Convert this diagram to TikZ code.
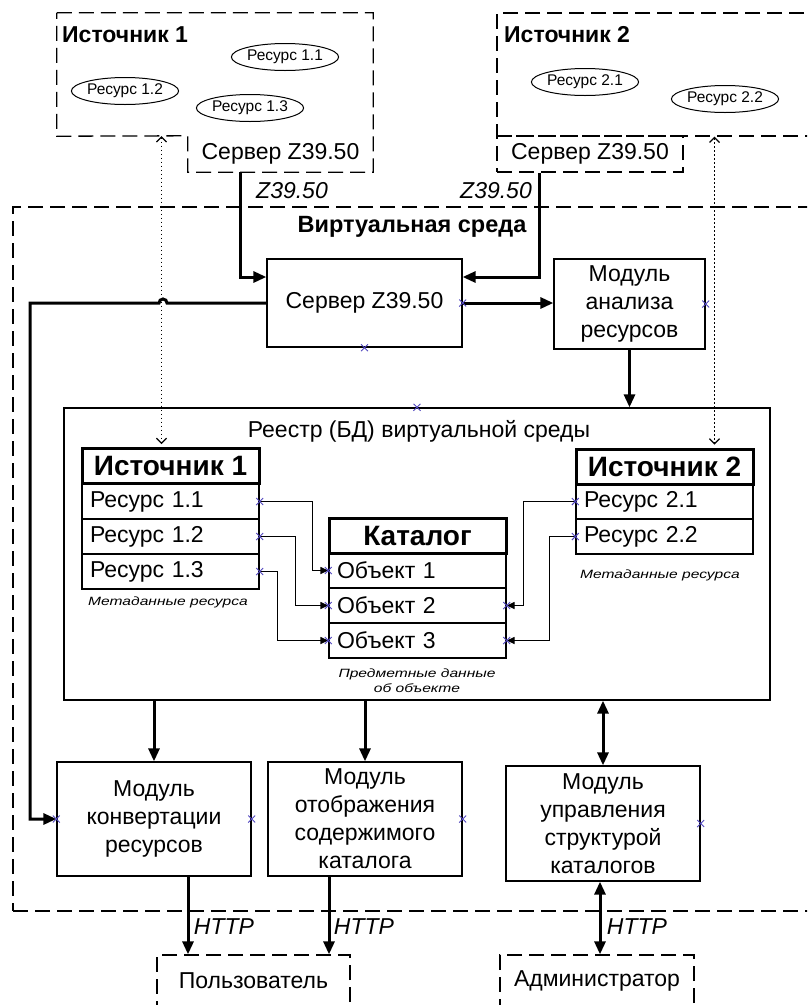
\documentclass[tikz,border=0pt]{standalone}
\usepackage{fontspec}
\setmainfont{Liberation Sans}
\usetikzlibrary{arrows.meta,shapes.geometric,shapes.misc}
\definecolor{xcol}{RGB}{80,70,190}
\newcommand\capt[1]{\scalebox{1.3}[1]{#1}}
\tikzset{
  lbl/.style={inner sep=0pt, font=\fontsize{23}{28}\selectfont},
  ilbl/.style={inner sep=0pt, font=\itshape\fontsize{23}{26}\selectfont},
  ttl/.style={inner sep=0pt, font=\bfseries\fontsize{23}{26}\selectfont},
  ell/.style={draw, ellipse, line width=1pt, minimum width=105pt, minimum height=27pt, inner sep=0pt, font=\fontsize{15.5}{18}\selectfont},
  dsh/.style={line width=1.3pt, dash pattern=on 15pt off 7pt},
  box/.style={draw, line width=1.3pt, inner sep=0pt, align=center, font=\fontsize{23}{28}\selectfont},
  hdr/.style={draw, line width=3pt, minimum width=177pt, minimum height=35pt, inner sep=0pt, font=\bfseries\fontsize{28}{30}\selectfont},
  rowbox/.style={draw, line width=1.3pt, minimum height=35pt, inner xsep=8pt, inner ysep=0pt, text width=161pt, align=left, font=\fontsize{23}{26}\selectfont},
  capn/.style={inner sep=0pt, align=center, font=\itshape\fontsize{12}{15}\selectfont},
  thk/.style={line width=3pt},
  tarr/.style={thk, -{Triangle[length=13pt,width=11pt]}},
  tdarr/.style={thk, {Triangle[length=13pt,width=11pt]}-{Triangle[length=13pt,width=11pt]}},
  carr/.style={line width=1.3pt, -{Triangle[length=8pt,width=7pt]}},
  dotarr/.style={line width=1.2pt, dash pattern=on 1.5pt off 2.5pt, {Straight Barb[length=5pt,width=10pt]}-{Straight Barb[length=5pt,width=10pt]}},
  xm/.style={shape=cross out, draw=xcol, line width=0.9pt, minimum size=6pt, inner sep=0pt},
}
\begin{document}
\begin{tikzpicture}[x=1pt,y=-1pt]
\useasboundingbox (0,0) rectangle (807,1005);
\clip (0,0) rectangle (807,1005);

% ---------- Source 1 ----------
\node[minimum width=316pt, minimum height=123pt, inner sep=0pt] (src1) at (215,74.5) {};
\node[lbl, minimum width=185pt, minimum height=36pt] (s1srv) at (280.5,154) {Сервер Z39.50};
\draw[dsh] (src1.north west) -- (src1.north east) -- (s1srv.south east) -- (s1srv.south west)
  -- (s1srv.north west) -- (src1.south west) -- cycle;
\node[ttl, anchor=west] (s1t) at (62,35) {Источник 1};
\node[ell] (e11) at (285,57) {Ресурс 1.1};
\node[ell] (e12) at (125,91) {Ресурс 1.2};
\node[ell] (e13) at (250,108) {Ресурс 1.3};

% ---------- Source 2 ----------
\node[dsh, draw, minimum width=323pt, minimum height=123pt, inner sep=0pt] (src2) at (658.5,74.5) {};
\node[lbl, dsh, draw, minimum width=186pt, minimum height=36pt] (s2srv) at (590,154) {Сервер Z39.50};
\node[ttl, anchor=west] (s2t) at (504,35) {Источник 2};
\node[ell] (e21) at (585,82) {Ресурс 2.1};
\node[ell] (e22) at (725,99) {Ресурс 2.2};

\node[ilbl] (z1) at (292,191) {Z39.50};
\node[ilbl] (z2) at (496,191) {Z39.50};

% ---------- Virtual environment ----------
\node[dsh, draw, minimum width=807pt, minimum height=704pt, inner sep=0pt] (venv) at (416.5,559) {};
\node[inner sep=0pt, font=\bfseries\fontsize{23.5}{26}\selectfont] (vt) at (412,227) {Виртуальная среда};

\node[box, minimum width=195pt, minimum height=88pt] (vsrv) at (364.5,303) {Сервер Z39.50};
\node[box, minimum width=151pt, minimum height=90pt] (anal) at (629.5,304) {Модуль\\анализа\\ресурсов};

% registry
\node[draw, line width=1.3pt, minimum width=706pt, minimum height=292pt, inner sep=0pt] (reg) at (417,554) {};
\node[lbl] (regt) at (419,431) {Реестр (БД) виртуальной среды};

% table Источник 1
\node[rowbox] (t1r1) at (170.5,501.5) {Ресурс 1.1};
\node[rowbox] (t1r2) at (170.5,536.5) {Ресурс 1.2};
\node[rowbox] (t1r3) at (170.5,571.5) {Ресурс 1.3};
\node[hdr] (t1h) at (170.5,466) {Источник 1};
\node[capn] (t1c) at (168,602) {\capt{Метаданные ресурса}};

% table Каталог
\node[rowbox] (c1) at (417.5,570.5) {Объект 1};
\node[rowbox] (c2) at (417.5,605.5) {Объект 2};
\node[rowbox] (c3) at (417.5,640.5) {Объект 3};
\node[hdr] (ch) at (417.5,535.5) {Каталог};
\node[capn] (cc) at (417,681) {\capt{Предметные данные}\\\capt{об объекте}};

% table Источник 2
\node[rowbox] (t2r1) at (664.5,501.5) {Ресурс 2.1};
\node[rowbox] (t2r2) at (664.5,536.5) {Ресурс 2.2};
\node[hdr] (t2h) at (664.5,466.5) {Источник 2};
\node[capn] (t2c) at (660,575) {\capt{Метаданные ресурса}};

% modules
\node[box, minimum width=194pt, minimum height=114pt] (conv) at (154,819) {Модуль\\конвертации\\ресурсов};
\node[box, minimum width=194pt, minimum height=114pt] (disp) at (365,819) {Модуль\\отображения\\содержимого\\каталога};
\node[box, minimum width=194pt, minimum height=115pt] (mgmt) at (603,823.5) {Модуль\\управления\\структурой\\каталогов};

% users
\node[lbl, dsh, draw, minimum width=193pt, minimum height=52pt] (user) at (253.5,981) {Пользователь};
\node[lbl, dsh, draw, minimum width=194pt, minimum height=52pt] (admin) at (597,981) {Администратор};

% ---------- connectors ----------
\draw[tarr] ([xshift=53pt]s1srv.south west) |- ([yshift=26pt]vsrv.west);
\draw[tarr] ([xshift=43pt]s2srv.south west) |- ([yshift=26pt]vsrv.east);
\draw[tarr] (vsrv.east) -- (vsrv.east -| anal.west);
\draw[tarr] (anal.south) -- (anal.south |- reg.north);

\coordinate (d1) at ([xshift=81pt]t1h.north west);
\coordinate (d2) at ([xshift=140pt]t2h.north west);
\draw[dotarr] (d1 |- src1.south) -- ([yshift=3pt]d1);
\draw[dotarr] (d2 |- src2.south) -- ([yshift=3pt]d2);

\draw[tarr] (vsrv.west) -- (167,303) arc[start angle=0, end angle=-180, radius=4] -- (30,303) |- (conv.west);

\draw[tarr] (conv.north |- reg.south) -- (conv.north);
\draw[tarr] (disp.north |- reg.south) -- (disp.north);
\draw[tdarr] (mgmt.north |- reg.south) -- (mgmt.north);

\coordinate (h1) at ([xshift=34pt]conv.south);
\coordinate (h2) at ([xshift=-36pt]disp.south);
\coordinate (h3) at ([xshift=-3pt]mgmt.south);
\draw[tarr] (h1) -- (h1 |- user.north);
\draw[tarr] (h2) -- (h2 |- user.north);
\draw[tdarr] (h3) -- (h3 |- admin.north);
\node[ilbl] (http1) at (224,927) {HTTP};
\node[ilbl] (http2) at (364,927) {HTTP};
\node[ilbl] (http3) at (637,927) {HTTP};

\draw[carr] (t1r1.east) -- ++(53,0) |- (c1.west);
\draw[carr] (t1r2.east) -- ++(36,0) |- (c2.west);
\draw[carr] (t1r3.east) -- ++(18,0) |- (c3.west);
\draw[carr] (t2r1.west) -- ++(-52,0) |- (c2.east);
\draw[carr] (t2r2.west) -- ++(-26,0) |- (c3.east);

% cross marks
\node[xm] (m1) at (vsrv.east) {};
\node[xm] (m2) at (vsrv.south) {};
\node[xm] (m3) at (anal.east) {};
\node[xm] (m4) at (reg.north) {};
\node[xm] (m5) at (t1r1.east) {};
\node[xm] (m6) at (t1r2.east) {};
\node[xm] (m7) at (t1r3.east) {};
\node[xm] (m8) at (c1.west) {};
\node[xm] (m9) at (c2.west) {};
\node[xm] (m10) at (c3.west) {};
\node[xm] (m11) at (c2.east) {};
\node[xm] (m12) at (c3.east) {};
\node[xm] (m13) at (t2r1.west) {};
\node[xm] (m14) at (t2r2.west) {};
\node[xm] (m15) at (conv.west) {};
\node[xm] (m16) at (conv.east) {};
\node[xm] (m17) at (disp.east) {};
\node[xm] (m18) at (mgmt.east) {};
\end{tikzpicture}
\end{document}
